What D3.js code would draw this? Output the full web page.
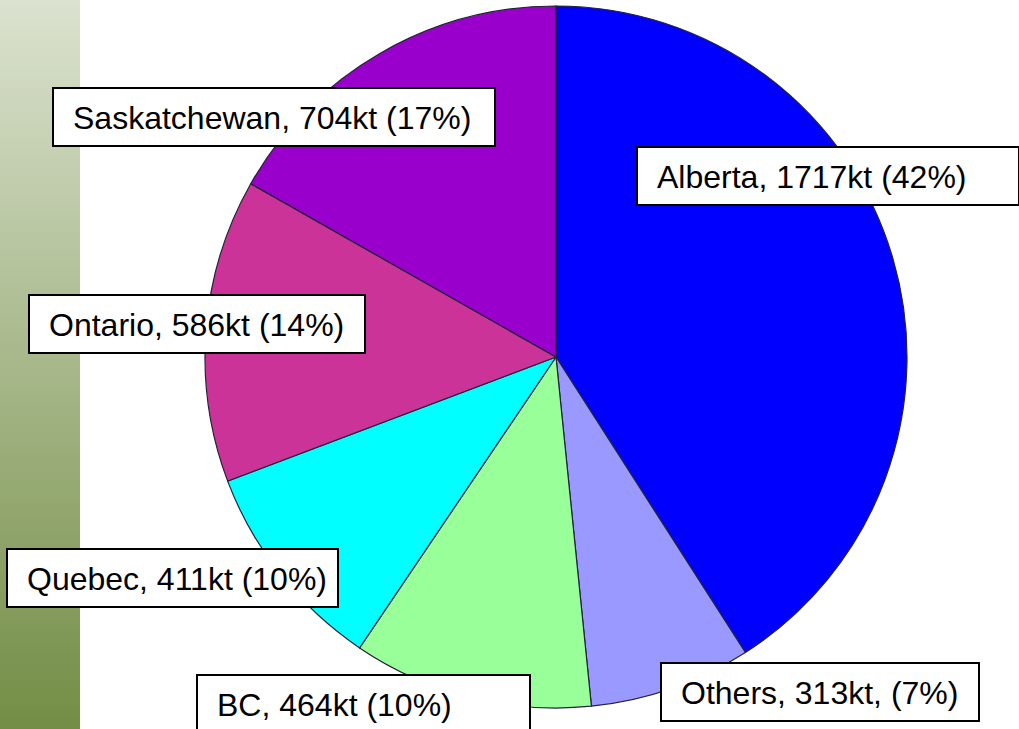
<!DOCTYPE html>
<html>
<head>
<meta charset="utf-8">
<script src="https://cdn.jsdelivr.net/npm/d3@7"></script>
<style>
  body { margin: 0; background: #fff; }
  svg { display: block; }
</style>
</head>
<body>
<script>

var width = 1019;
var height = 729;

// provinces, clockwise from 12 o'clock
var provinces = ["Alberta", "Others", "BC", "Quebec", "Ontario", "Saskatchewan"];
var kilotonnes = [1717, 313, 464, 411, 586, 704];
var percents = [42, 7, 10, 10, 14, 17];
var sliceColors = ["#0000ff", "#9999ff", "#99ff99", "#00ffff", "#cc3399", "#9900cc"];

// where each label box sits (left, top, width)
var boxLayout = [
  [637, 147, 382],
  [661, 663, 318],
  [197, 675, 333],
  [7, 549, 331],
  [29, 295, 336],
  [53, 88, 442]
];

var svg = d3.select("body")
    .append("svg")
    .attr("width", width)
    .attr("height", height);

// green strip on the left
var grad = svg.append("defs").append("linearGradient")
    .attr("id", "strip")
    .attr("x1", 0).attr("y1", 0).attr("x2", 0).attr("y2", 1);
grad.append("stop").attr("offset", "0%").attr("stop-color", "#dbe2cf");
grad.append("stop").attr("offset", "100%").attr("stop-color", "#738d45");

svg.append("rect")
    .attr("x", 0).attr("y", 0)
    .attr("width", 80).attr("height", height)
    .attr("fill", "url(#strip)");

var cx = 556, cy = 357, radius = 351;

var pie = d3.pie().sort(null).value(function(d){ return d; });
var arc = d3.arc().innerRadius(0).outerRadius(radius);

var g = svg.append("g").attr("transform", "translate(" + cx + "," + cy + ")");

g.selectAll("path")
  .data(pie(kilotonnes))
  .enter()
  .append("path")
  .attr("d", arc)
  .attr("fill", function(d, i){ return sliceColors[i]; })
  .attr("stroke", "#222238")
  .attr("stroke-width", 1.2);

function labelText(i){
  if (provinces[i] == "Others") {
    return provinces[i] + ", " + kilotonnes[i] + "kt, (" + percents[i] + "%)";
  }
  return provinces[i] + ", " + kilotonnes[i] + "kt (" + percents[i] + "%)";
}

var labels = svg.selectAll("g.label")
  .data(provinces)
  .enter()
  .append("g")
  .attr("class", "label")
  .attr("transform", function(d, i){ return "translate(" + boxLayout[i][0] + "," + boxLayout[i][1] + ")"; });

labels.append("rect")
  .attr("width", function(d, i){ return boxLayout[i][2]; })
  .attr("height", 58)
  .attr("fill", "#fff")
  .attr("stroke", "#000")
  .attr("stroke-width", 2);

labels.append("text")
  .attr("x", 20)
  .attr("y", 41)
  .attr("font-family", "'Liberation Sans', Arial, sans-serif")
  .attr("font-size", 32)
  .attr("fill", "#000")
  .text(function(d, i){ return labelText(i); });

</script>
</body>
</html>
